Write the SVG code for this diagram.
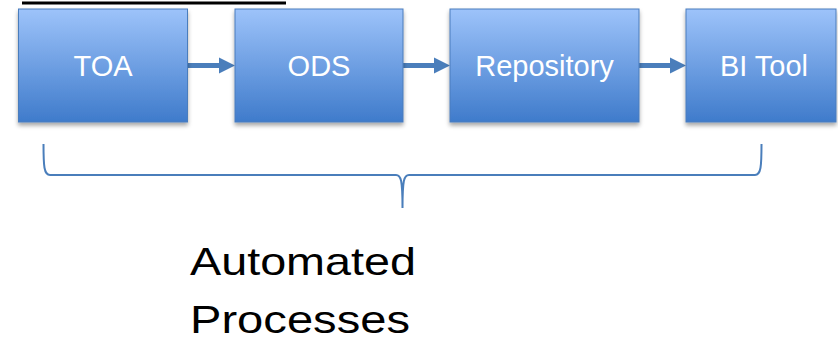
<svg xmlns="http://www.w3.org/2000/svg" width="838" height="341" viewBox="0 0 838 341">
<style>
.box{fill:url(#g);stroke:#4a7dbd;stroke-width:1;filter:url(#sh)}
.lbl{font-family:"Liberation Sans",Arial,sans-serif;font-size:29px;fill:#ffffff;text-anchor:middle}
.conn{stroke:#4a7ebb;stroke-width:5;fill:none}
.head{fill:#4a7ebb}
.brace{stroke:#4a7ebb;stroke-width:2;fill:none}
.cap{font-family:"Liberation Sans",Arial,sans-serif;font-size:39px;fill:#000000}
</style>
<defs>
<linearGradient id="g" x1="0" y1="0" x2="0" y2="1">
<stop offset="0" stop-color="#9dc3fa"/>
<stop offset="1" stop-color="#3f7bcb"/>
</linearGradient>
<filter id="sh" x="-10%" y="-10%" width="120%" height="130%">
<feDropShadow dx="0" dy="3" stdDeviation="2" flood-color="#000" flood-opacity="0.35"/>
</filter>
</defs>
<rect x="0" y="0" width="838" height="341" fill="#ffffff"/>
<line x1="22" y1="3" x2="286" y2="3" stroke="#000" stroke-width="3"/>
<g id="connectors">
<line class="conn" x1="188" y1="65.5" x2="220" y2="65.5"/>
<polygon class="head" points="219,57.5 235,65.5 219,73.5"/>
<line class="conn" x1="403" y1="65.5" x2="435" y2="65.5"/>
<polygon class="head" points="434,57.5 450,65.5 434,73.5"/>
<line class="conn" x1="639" y1="65.5" x2="671" y2="65.5"/>
<polygon class="head" points="670,57.5 686,65.5 670,73.5"/>
</g>
<g id="toa"><rect class="box" x="18.5" y="9" width="169" height="113"/><text class="lbl" x="103" y="76">TOA</text></g>
<g id="ods"><rect class="box" x="235" y="9" width="168" height="113"/><text class="lbl" x="319" y="76">ODS</text></g>
<g id="repository"><rect class="box" x="450" y="9" width="189" height="113"/><text class="lbl" x="544.5" y="76">Repository</text></g>
<g id="bitool"><rect class="box" x="686" y="9" width="150" height="113"/><text class="lbl" x="764" y="76">BI Tool</text></g>
<g id="brace">
<path class="brace" d="M43.5,144 C43.5,166 44,175 50,175 L396,175 C401,175 402.5,180 402.5,208 C402.5,180 404,175 409,175 L755,175 C761,175 761.5,166 761.5,144"/>
</g>
<g id="caption">
<text class="cap" x="190" y="275" textLength="226" lengthAdjust="spacingAndGlyphs">Automated</text>
<text class="cap" x="190" y="333" textLength="220" lengthAdjust="spacingAndGlyphs">Processes</text>
</g>
</svg>
